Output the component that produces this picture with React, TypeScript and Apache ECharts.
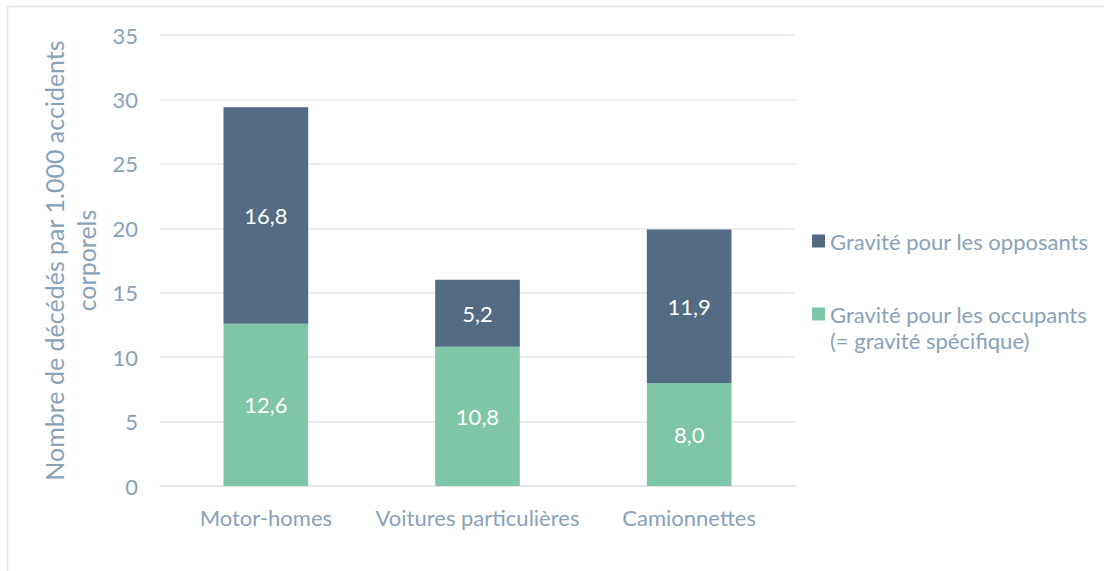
import React, { useEffect, useRef } from "react";
import * as echarts from "echarts";

const categories = ["Motor-homes", "Voitures particulières", "Camionnettes"];
const occupants = [12.6, 10.8, 8.0];
const opposants = [16.8, 5.2, 11.9];
const nameOpp = "Gravité pour les opposants";
const nameOcc = "Gravité pour les occupants";
const nameOccLine2 = "(= gravité spécifique)";
const yAxisName = "Nombre de décédés par 1.000 accidents\ncorporels";

const TEXT = "#8AA2B8";
const DARK = "#536B83";
const GREEN = "#7FC6A9";
const FONT = "Lato";

export default function App() {
  const ref = useRef<HTMLDivElement>(null);
  useEffect(() => {
    document.body.style.margin = "0";
    const chart = echarts.init(ref.current!, undefined, { renderer: "svg" });
    const fmt = (p: any) => Number(p.value).toFixed(1).replace(".", ",");
    chart.setOption({
      animation: false,
      textStyle: { fontFamily: FONT },
      grid: { left: 160, right: 309, top: 35, bottom: 85, containLabel: false },
      xAxis: {
        type: "category",
        data: categories,
        axisLine: { lineStyle: { color: "#DDE3E9", width: 1.5 } },
        axisTick: { show: false },
        axisLabel: { color: TEXT, fontSize: 22, fontFamily: FONT, margin: 20, interval: 0 },
      },
      yAxis: {
        type: "value",
        min: 0,
        max: 35,
        interval: 5,
        name: yAxisName,
        nameLocation: "middle",
        nameGap: 50,
        nameTextStyle: { color: TEXT, fontSize: 25, fontFamily: FONT, lineHeight: 32 },
        axisLine: { show: false },
        axisTick: { show: false },
        splitLine: { lineStyle: { color: "#E3E8EE", width: 1.5 } },
        axisLabel: { color: TEXT, fontSize: 22, fontFamily: FONT, margin: 22 },
      },
      legend: {
        orient: "vertical",
        left: 812,
        top: 228,
        padding: 0,
        itemWidth: 13,
        itemHeight: 13,
        itemGap: 47,
        icon: "rect",
        data: [nameOpp, nameOcc],
        textStyle: { color: TEXT, fontSize: 22, fontFamily: FONT, lineHeight: 26 },
        selectedMode: false,
      },
      graphic: [
        {
          type: "rect",
          shape: { x: 7.5, y: 6.5, width: 1300, height: 800 },
          style: { fill: "none", stroke: "#E3E8EE", lineWidth: 1.5 },
          silent: true,
        },
        {
          type: "text",
          left: 830,
          top: 329,
          style: { text: nameOccLine2, fill: TEXT, font: `22px ${FONT}` },
        },
      ],
      series: [
        {
          name: nameOcc,
          type: "bar",
          stack: "total",
          barWidth: "40%",
          data: occupants,
          itemStyle: { color: GREEN },
          label: { show: true, position: "inside", color: "#fff", fontSize: 22, fontFamily: FONT, formatter: fmt },
        },
        {
          name: nameOpp,
          type: "bar",
          stack: "total",
          barWidth: "40%",
          data: opposants,
          itemStyle: { color: DARK },
          label: { show: true, position: "inside", color: "#fff", fontSize: 22, fontFamily: FONT, formatter: fmt },
        },
      ],
    });
    return () => chart.dispose();
  }, []);
  return <div ref={ref} style={{ width: 1104, height: 571 }} />;
}
